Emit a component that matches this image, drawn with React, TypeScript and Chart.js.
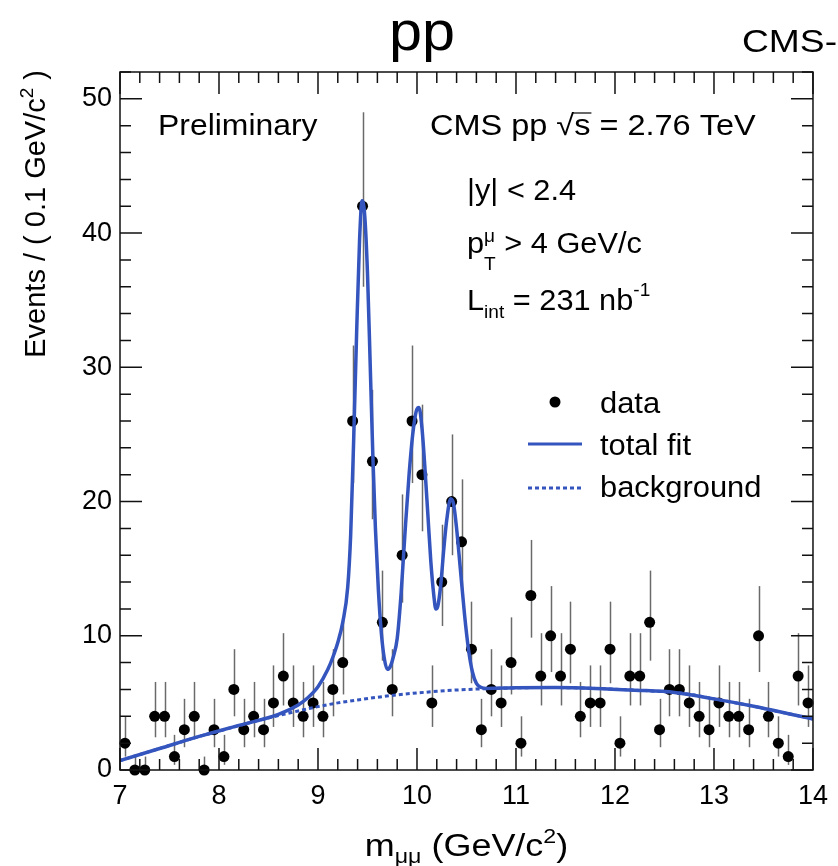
import { useEffect, useRef } from 'react';
import { Chart, registerables } from 'chart.js';

Chart.register(...registerables);

// bin centres (0.1 GeV/c2 bins) and event counts
const MASS = [
  7.05, 7.15, 7.25, 7.35, 7.45, 7.55, 7.65, 7.75, 7.85, 7.95,
  8.05, 8.15, 8.25, 8.35, 8.45, 8.55, 8.65, 8.75, 8.85, 8.95,
  9.05, 9.15, 9.25, 9.35, 9.45, 9.55, 9.65, 9.75, 9.85, 9.95,
  10.05, 10.15, 10.25, 10.35, 10.45, 10.55, 10.65, 10.75, 10.85, 10.95,
  11.05, 11.15, 11.25, 11.35, 11.45, 11.55, 11.65, 11.75, 11.85, 11.95,
  12.05, 12.15, 12.25, 12.35, 12.45, 12.55, 12.65, 12.75, 12.85, 12.95,
  13.05, 13.15, 13.25, 13.35, 13.45, 13.55, 13.65, 13.75, 13.85, 13.95,
];
const COUNTS = [
  2, 0, 0, 4, 4, 1, 3, 4, 0, 3,
  1, 6, 3, 4, 3, 5, 7, 5, 4, 5,
  4, 6, 8, 26, 42, 23, 11, 6, 16, 26,
  22, 5, 14, 20, 17, 9, 3, 6, 5, 8,
  2, 13, 7, 10, 7, 9, 4, 5, 5, 9,
  2, 7, 7, 11, 3, 6, 6, 5, 4, 3,
  5, 4, 4, 3, 10, 4, 2, 1, 7, 5,
];

// background curve
const BG_X = [
  7.0, 7.2, 7.4, 7.6, 7.8, 8.0, 8.2, 8.4, 8.6, 8.8, 9.0, 9.2, 9.4, 9.6, 9.8, 10.0, 10.2, 10.4,
  10.6, 10.8, 11.0, 11.2, 11.4, 11.6, 11.8, 12.0, 12.2, 12.4, 12.6, 12.8, 13.0, 13.2, 13.4, 13.6, 13.8, 14.0,
];
const BG_Y = [
  0.70, 1.15, 1.60, 2.05, 2.50, 2.90, 3.30, 3.70, 4.05, 4.40, 4.72, 5.00, 5.22, 5.42, 5.60, 5.74, 5.86, 5.96,
  6.03, 6.08, 6.12, 6.14, 6.14, 6.12, 6.08, 6.02, 5.95, 5.87, 5.78, 5.58, 5.30, 5.02, 4.75, 4.42, 4.12, 3.80,
];

// total fit curve
const FIT_X = [
  7.0, 7.4, 7.8, 8.2, 8.6, 8.8, 8.9, 9.0, 9.1, 9.15, 9.2, 9.25, 9.3, 9.33, 9.36, 9.39, 9.42, 9.445, 9.47, 9.5,
  9.53, 9.555, 9.58, 9.61, 9.64, 9.67, 9.7, 9.73, 9.76, 9.8, 9.84, 9.88, 9.92, 9.96, 10.0, 10.02, 10.05, 10.08,
  10.11, 10.14, 10.17, 10.19, 10.21, 10.24, 10.27, 10.3, 10.34, 10.37, 10.4, 10.44, 10.48, 10.52, 10.56, 10.6,
  10.65, 10.7, 11.0, 11.4, 11.8, 12.2, 12.6, 13.0, 13.4, 13.8, 14.0,
];
const FIT_Y = [
  0.70, 1.60, 2.50, 3.32, 4.15, 4.85, 5.4, 6.2, 7.5, 8.4, 9.5, 11.0, 13.6, 17.5, 24.5, 32.5, 39.5, 42.4, 41.5, 37.0,
  29.5, 23.2, 18.0, 13.4, 10.2, 8.3, 7.5, 7.7, 8.4, 9.8, 13.2, 17.8, 22.0, 25.2, 26.9, 27.0, 25.5, 22.5,
  19.0, 15.5, 13.0, 12.0, 12.2, 13.8, 16.4, 18.6, 20.2, 19.8, 18.0, 14.8, 11.6, 9.0, 7.3, 6.45,
  6.15, 6.08, 6.12, 6.14, 6.08, 5.95, 5.78, 5.30, 4.75, 4.12, 3.80,
];

const X_TICKS = [7, 8, 9, 10, 11, 12, 13, 14];
const Y_TICKS = [0, 10, 20, 30, 40, 50];

const FONT = '"Liberation Sans", Arial, Helvetica, sans-serif';
const BLUE = 'rgb(52,84,190)';

// approximate Poisson interval
function poissonErr(n: number): [number, number] {
  const s = Math.sqrt(n + 0.25);
  return [n === 0 ? 0 : s - 0.5, s + 0.5];
}

type Part = { t: string; size: number; dy?: number };

// draws a run of text pieces (sub/superscripts) with a horizontal stretch sx
function rich(ctx: CanvasRenderingContext2D, parts: Part[], x: number, y: number, sx = 1, measureOnly = false) {
  let cx = 0;
  ctx.save();
  ctx.translate(x, y);
  ctx.scale(sx, 1);
  for (const p of parts) {
    ctx.font = `${p.size}px ${FONT}`;
    if (!measureOnly) ctx.fillText(p.t, cx, p.dy || 0);
    cx += ctx.measureText(p.t).width;
  }
  ctx.restore();
  return cx * sx;
}

const errorBars = {
  id: 'errorBars',
  beforeDatasetsDraw(chart: any) {
    const { ctx, chartArea: a, scales: { x, y } } = chart;
    ctx.save();
    ctx.beginPath();
    ctx.rect(a.left, a.top, a.right - a.left, a.bottom - a.top);
    ctx.clip();
    ctx.strokeStyle = '#6a6a6a';
    ctx.lineWidth = 1.5;
    MASS.forEach((m, i) => {
      const n = COUNTS[i];
      const [lo, hi] = poissonErr(n);
      const px = Math.round(x.getPixelForValue(m)) + 0.5;
      ctx.beginPath();
      ctx.moveTo(px, y.getPixelForValue(n - lo));
      ctx.lineTo(px, y.getPixelForValue(n + hi));
      ctx.stroke();
    });
    ctx.restore();
  },
};

const frame = {
  id: 'frame',
  afterDraw(chart: any) {
    const { ctx, chartArea: a, scales: { x, y } } = chart;
    ctx.save();
    ctx.strokeStyle = '#111';
    ctx.lineWidth = 1.5;
    ctx.strokeRect(a.left, a.top, a.right - a.left, a.bottom - a.top);

    // inward ticks on all four sides
    ctx.beginPath();
    for (let k = 0; k <= 35; k++) {
      const v = 7 + k * 0.2;
      const px = x.getPixelForValue(v);
      const len = k % 5 === 0 ? 22 : 11;
      ctx.moveTo(px, a.bottom); ctx.lineTo(px, a.bottom - len);
      ctx.moveTo(px, a.top); ctx.lineTo(px, a.top + len);
    }
    for (let k = 0; k <= 26; k++) {
      const v = k * 2;
      const py = y.getPixelForValue(v);
      const len = k % 5 === 0 ? 22 : 11;
      ctx.moveTo(a.left, py); ctx.lineTo(a.left + len, py);
      ctx.moveTo(a.right, py); ctx.lineTo(a.right - len, py);
    }
    ctx.stroke();

    ctx.fillStyle = '#000';
    ctx.textBaseline = 'alphabetic';
    ctx.textAlign = 'left';

    // header
    const ppW = rich(ctx, [{ t: 'pp', size: 56 }], 0, 0, 1.06, true);
    rich(ctx, [{ t: 'pp', size: 56 }], 422 - ppW / 2, 50, 1.06);
    rich(ctx, [{ t: 'CMS-', size: 31 }], 742, 52, 1.2);

    // axis titles
    const yParts: Part[] = [
      { t: 'Events / ( 0.1 GeV/c', size: 29 },
      { t: '2', size: 19, dy: -12 },
      { t: ' )', size: 29 },
    ];
    ctx.save();
    ctx.translate(45, 70);
    ctx.rotate(-Math.PI / 2);
    const yw = rich(ctx, yParts, 0, 0, 1, true);
    rich(ctx, yParts, -yw, 0);
    ctx.restore();

    const xParts: Part[] = [
      { t: 'm', size: 31 },
      { t: 'μμ', size: 20, dy: 7 },
      { t: ' (GeV/c', size: 31 },
      { t: '2', size: 20, dy: -13 },
      { t: ')', size: 31 },
    ];
    const xw = rich(ctx, xParts, 0, 0, 1.16, true);
    rich(ctx, xParts, (a.left + a.right) / 2 - xw / 2, 856, 1.16);

    // in-frame labels
    rich(ctx, [{ t: 'Preliminary', size: 29 }], 158, 135, 1.1);

    const s1 = 1.12;
    let cx = 430;
    cx += rich(ctx, [{ t: 'CMS pp √', size: 29 }], cx, 135, s1);
    const sw = rich(ctx, [{ t: 's', size: 29 }], cx, 135, s1);
    ctx.beginPath();
    ctx.strokeStyle = '#000';
    ctx.lineWidth = 1.2;
    ctx.moveTo(cx - 1, 113); ctx.lineTo(cx + sw + 1, 113);
    ctx.stroke();
    cx += sw;
    rich(ctx, [{ t: ' = 2.76 TeV', size: 29 }], cx, 135, s1);

    const s2 = 1.06;
    rich(ctx, [{ t: '|y| < 2.4', size: 29 }], 467, 200, s2);

    let px = 467 + rich(ctx, [{ t: 'p', size: 29 }], 467, 253, s2);
    const tw = rich(ctx, [{ t: 'T', size: 18 }], px, 270, s2);
    const mw = rich(ctx, [{ t: 'μ', size: 18 }], px, 242, s2);
    px += Math.max(tw, mw);
    rich(ctx, [{ t: ' > 4 GeV/c', size: 29 }], px, 253, s2);

    rich(ctx, [
      { t: 'L', size: 29 },
      { t: 'int', size: 18, dy: 8 },
      { t: ' = 231 nb', size: 29 },
      { t: '-1', size: 18, dy: -14 },
    ], 467, 310, s2);

    // legend
    ctx.beginPath();
    ctx.arc(555, 402, 5.5, 0, Math.PI * 2);
    ctx.fill();
    ctx.strokeStyle = BLUE;
    ctx.lineWidth = 3;
    ctx.beginPath();
    ctx.moveTo(528, 444); ctx.lineTo(582, 444);
    ctx.stroke();
    ctx.setLineDash([4, 3]);
    ctx.beginPath();
    ctx.moveTo(528, 488); ctx.lineTo(582, 488);
    ctx.stroke();
    ctx.setLineDash([]);
    rich(ctx, [{ t: 'data', size: 30 }], 600, 413, 1.03);
    rich(ctx, [{ t: 'total fit', size: 30 }], 600, 455, 1.03);
    rich(ctx, [{ t: 'background', size: 30 }], 600, 497, 1.03);

    ctx.restore();
  },
};

export default function App() {
  const ref = useRef<HTMLCanvasElement>(null);
  const ci = useRef<Chart | null>(null);

  useEffect(() => {
    if (!ref.current) return;
    ci.current?.destroy();

    const tickFont = { size: 27, family: FONT };

    ci.current = new Chart(ref.current, {
      type: 'scatter',
      data: {
        datasets: [
          {
            label: 'total fit',
            data: FIT_X.map((x, i) => ({ x, y: FIT_Y[i] })),
            showLine: true,
            borderColor: BLUE,
            borderWidth: 3.5,
            pointRadius: 0,
            cubicInterpolationMode: 'monotone',
            order: 0,
          },
          {
            label: 'background',
            data: BG_X.map((x, i) => ({ x, y: BG_Y[i] })),
            showLine: true,
            borderColor: BLUE,
            borderWidth: 3,
            borderDash: [4, 3],
            pointRadius: 0,
            cubicInterpolationMode: 'monotone',
            order: 1,
          },
          {
            label: 'data',
            data: MASS.map((x, i) => ({ x, y: COUNTS[i] })),
            pointRadius: 5.5,
            pointBackgroundColor: '#000',
            pointBorderColor: '#000',
            pointBorderWidth: 0,
            showLine: false,
            clip: 10,
            order: 2,
          } as any,
        ],
      },
      options: {
        responsive: false,
        animation: false,
        events: [],
        layout: { padding: { top: 72, right: 16, left: 0, bottom: 0 } },
        plugins: { legend: { display: false }, tooltip: { enabled: false } },
        scales: {
          x: {
            type: 'linear', min: 7, max: 14,
            afterBuildTicks: (s: any) => { s.ticks = X_TICKS.map(v => ({ value: v })); },
            afterFit: (s: any) => { s.height = 96; },
            grid: { display: false, drawTicks: false },
            border: { display: false },
            ticks: { padding: 10, color: '#000', font: tickFont, maxRotation: 0, autoSkip: false },
          },
          y: {
            type: 'linear', min: 0, max: 52,
            afterBuildTicks: (s: any) => { s.ticks = Y_TICKS.map(v => ({ value: v })); },
            afterFit: (s: any) => { s.width = 120; },
            grid: { display: false, drawTicks: false },
            border: { display: false },
            ticks: { padding: 8, color: '#000', font: tickFont, autoSkip: false },
          },
        },
      },
      plugins: [errorBars, frame],
    });

    return () => ci.current?.destroy();
  }, []);

  return (
    <div style={{ position: 'absolute', left: 0, top: 0, width: 838, height: 866, background: '#fff' }}>
      <canvas ref={ref} width={838} height={866} style={{ display: 'block' }} />
    </div>
  );
}
